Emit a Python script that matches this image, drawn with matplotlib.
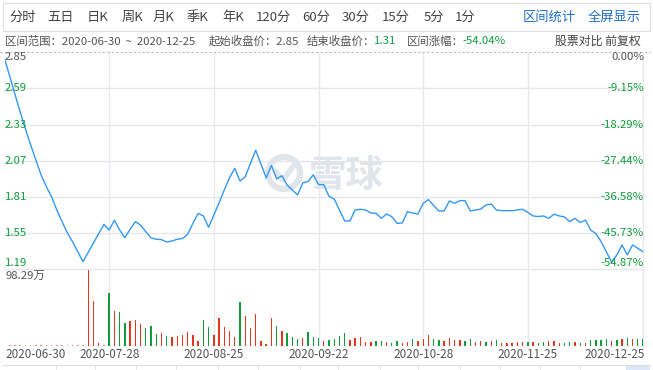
import numpy as np
import matplotlib
matplotlib.use("Agg")
import matplotlib.pyplot as plt
from matplotlib.patches import Rectangle, Circle
from matplotlib.transforms import IdentityTransform

plt.rcParams['font.family'] = ['Noto Sans CJK SC', 'DejaVu Sans']

W, H = 653, 370

# --- data ---
date_ticks = [0, 20, 40, 60, 80, 100, 122]
date_labels = ["2020-06-30", "2020-07-28", "2020-08-25", "2020-09-22",
               "2020-10-28", "2020-11-25", "2020-12-25"]

price_ticks = [2.85, 2.59, 2.33, 2.07, 1.81, 1.55, 1.29]
price_labels = ["2.85", "2.59", "2.33", "2.07", "1.81", "1.55", "1.19"]
pct_labels = ["0.00%", "-9.15%", "-18.29%", "-27.44%", "-36.58%", "-45.73%", "-54.87%"]

close = [2.805, 2.676, 2.547, 2.420, 2.298, 2.183, 2.075, 1.967, 1.883, 1.811,
         1.716, 1.632, 1.553, 1.488, 1.416, 1.345, 1.412, 1.479, 1.546, 1.613,
         1.572, 1.642, 1.572, 1.517, 1.577, 1.632, 1.608, 1.560, 1.515, 1.506,
         1.503, 1.486, 1.493, 1.506, 1.511, 1.541, 1.620, 1.692, 1.673, 1.592,
         1.680, 1.768, 1.860, 1.948, 2.015, 1.924, 1.955, 2.051, 2.145, 2.046,
         1.946, 2.036, 1.939, 1.962, 1.895, 1.860, 1.824, 1.912, 1.919, 1.969,
         1.898, 1.898, 1.814, 1.795, 1.716, 1.637, 1.637, 1.716, 1.721, 1.716,
         1.694, 1.692, 1.656, 1.687, 1.668, 1.620, 1.623, 1.704, 1.694, 1.687,
         1.764, 1.791, 1.748, 1.709, 1.709, 1.781, 1.764, 1.783, 1.783, 1.709,
         1.716, 1.722, 1.752, 1.759, 1.716, 1.711, 1.711, 1.711, 1.716, 1.721,
         1.698, 1.673, 1.669, 1.673, 1.656, 1.686, 1.673, 1.666, 1.632, 1.656,
         1.626, 1.644, 1.572, 1.546, 1.488, 1.416, 1.341, 1.393, 1.465, 1.393,
         1.465, 1.441, 1.416]

# volume in 万
volume = [1.0, 1.0, 1.0, 1.0, 1.0, 1.0, 1.0, 1.0, 1.0, 1.0,
          1.0, 1.0, 1.0, 1.0, 1.0, 1.0, 98.29, 58.2, 3.4, 1.0,
          68.1, 45.3, 43.5, 29.3, 32.3, 33.6, 28.0, 22.8, 25.9, 15.5,
          16.4, 12.9, 11.2, 12.9, 13.8, 18.1, 14.2, 6.5, 33.6, 24.1,
          14.2, 35.8, 24.1, 19.4, 11.2, 56.5, 38.8, 22.8, 41.4, 6.5,
          2.6, 35.8, 25.9, 19.4, 16.4, 11.2, 8.6, 9.9, 17.7, 11.2,
          9.9, 6.5, 7.8, 8.6, 12.9, 17.2, 7.8, 9.9, 11.2, 5.2,
          5.2, 6.0, 6.5, 5.2, 3.9, 6.9, 4.3, 5.6, 9.1, 6.5,
          8.6, 14.2, 8.6, 7.8, 6.9, 10.3, 7.8, 7.3, 6.9, 9.1,
          5.6, 6.5, 5.2, 6.5, 7.8, 4.3, 4.3, 4.3, 5.6, 5.6,
          5.6, 4.7, 4.3, 5.6, 6.5, 6.5, 4.3, 4.3, 5.2, 5.2,
          4.3, 4.3, 7.3, 7.3, 7.8, 8.6, 6.9, 7.8, 9.1, 9.9,
          9.1, 8.6, 8.6]
# 1 = red (up), 0 = green (down)
vol_up = [1, 1, 1, 1, 1, 1, 1, 1, 1, 1, 1, 1, 1, 1, 1, 1, 1, 1, 1, 1,
          0, 1, 0, 0, 1, 1, 1, 0, 0, 0, 1, 0, 1, 1, 1, 1, 1, 1, 0, 0,
          1, 1, 1, 1, 1, 0, 1, 1, 1, 1, 1, 1, 0, 1, 0, 0, 0, 1, 0, 0,
          0, 1, 0, 0, 0, 0, 1, 1, 1, 1, 1, 0, 0, 1, 0, 0, 1, 1, 0, 1,
          1, 1, 0, 0, 1, 1, 1, 1, 0, 0, 1, 1, 0, 1, 0, 1, 1, 1, 1, 1,
          0, 1, 0, 0, 1, 1, 1, 0, 0, 1, 0, 1, 0, 0, 0, 0, 1, 0, 1, 0,
          1, 0, 0]
vol_max = 98.29

RED = "#e8341c"
GREEN = "#0f9d3a"
BLUE = "#3398f5"
GRID = "#e6e8ee"
TXT = "#555555"


def fx(px):
    return px / W


def fy(py):
    return 1 - py / H


fig = plt.figure(figsize=(W / 100, H / 100), dpi=100)

# --- price panel ---
x0, x1 = 4.5, 643
top, bot = 52.1, 269.3
ax = fig.add_axes([fx(x0), fy(bot), fx(x1 - x0), (bot - top) / H])
ax.patch.set_alpha(0)
x = np.arange(len(close))
ax.plot(x, close, color=BLUE, lw=1.0, zorder=3)
ax.set_xlim(0, len(close) - 1)
ax.set_ylim(price_ticks[-1], price_ticks[0])
ax.set_xticks([])
ax.set_yticks([])
for s in ax.spines.values():
    s.set_visible(False)
for t in price_ticks[1:]:
    ax.axhline(t, color=GRID, lw=1.0, zorder=1, clip_on=False)
for d in date_ticks[1:-1]:
    ax.axvline(d, color=GRID, lw=1.0, zorder=1)
ax.axvline(date_ticks[-1], color=GRID, lw=1.0, zorder=1, clip_on=False)

# watermark, under the line
wm = "#e1e6ec"
ax.add_patch(Circle((284, H - 173), 16, transform=IdentityTransform(),
                    fill=False, edgecolor=wm, lw=4.5, zorder=2, clip_on=False))
ax.add_line(plt.Line2D([275, 283, 294], [H - 171, H - 180, H - 165],
                       transform=IdentityTransform(), color=wm, lw=4, zorder=2,
                       solid_capstyle="round", clip_on=False))
ax.text(fx(309), fy(176), "雪球", transform=fig.transFigure, color=wm, fontsize=27,
        fontweight="bold", ha="left", va="center", zorder=2)

# --- volume panel ---
vtop, vbot = 270, 346
axv = fig.add_axes([fx(x0), fy(vbot), fx(x1 - x0), (vbot - vtop) / H])
axv.patch.set_alpha(0)
vx = np.arange(len(volume))
cols = [RED if u else GREEN for u in vol_up]
big = np.array(volume) > 2
axv.bar(vx[big], np.array(volume)[big], width=0.26, color=np.array(cols)[big], zorder=3)
axv.bar(vx[~big], np.array(volume)[~big], width=0.3, color="#f08a78", zorder=3)
axv.set_xlim(0, len(volume) - 1)
axv.set_ylim(0, vol_max)
axv.set_xticks([])
axv.set_yticks([])
for s in axv.spines.values():
    s.set_visible(False)
for d in date_ticks[1:-1]:
    axv.axvline(d, color=GRID, lw=1.0, zorder=1)
axv.axvline(date_ticks[-1], color=GRID, lw=1.0, zorder=1, clip_on=False)

# --- axis labels ---
ppx = (bot - top) / (price_ticks[0] - price_ticks[-1])
for i, (t, lab, pl) in enumerate(zip(price_ticks, price_labels, pct_labels)):
    yy = top + (price_ticks[0] - t) * ppx
    if i == 0:
        yy = 57
    elif i == len(price_ticks) - 1:
        yy = 263
    c = TXT if i == 0 else GREEN
    fig.text(fx(5), fy(yy), lab, color=c, fontsize=8.2, ha="left", va="center")
    fig.text(fx(644), fy(yy), pl, color=c, fontsize=8.2, ha="right", va="center")

fig.text(fx(5), fy(275.5), "98.29万", color=TXT, fontsize=8.2, ha="left", va="center")

for d, lab in zip(date_ticks, date_labels):
    px = x0 + (x1 - x0) * d / (len(close) - 1)
    ha = "center"
    if d == date_ticks[0]:
        px, ha = 5, "left"
    elif d == date_ticks[-1]:
        px, ha = 645, "right"
    fig.text(fx(px), fy(355), lab, color=TXT, fontsize=8.4, ha=ha, va="center")

# --- bottom navigator strip ---
fig.add_artist(plt.Line2D([fx(3), fx(650)], [fy(365), fy(365)], color="#dddddd", lw=0.8))
for px in [56, 95, 136, 176, 218, 258, 300, 338, 380, 418, 460, 500, 540, 580]:
    fig.add_artist(plt.Line2D([fx(px), fx(px)], [fy(365), fy(370)], color="#e6e6e6", lw=0.8))
fig.add_artist(Rectangle((fx(626), 0), fx(24), fy(365) - 0.002, color="#dbe8f7", lw=0))

# --- header ---
fig.add_artist(Rectangle((fx(3), fy(31)), fx(647), (31 - 3) / H, fill=False,
                         edgecolor="#dedede", lw=0.8))
tabs = ["分时", "五日", "日K", "周K", "月K", "季K", "年K", "120分", "60分", "30分",
        "15分", "5分", "1分"]
tab_x = [23, 61, 98, 133, 164, 197, 233, 273, 316, 356, 396, 434, 465]
for t, px in zip(tabs, tab_x):
    fig.text(fx(px), fy(17), t, color="#444444", fontsize=9.5, ha="center", va="center")
fig.text(fx(549), fy(17), "区间统计", color="#1f6fc6", fontsize=9.5, ha="center", va="center")
fig.text(fx(614), fy(17), "全屏显示", color="#1f6fc6", fontsize=9.5, ha="center", va="center")

fig.add_artist(plt.Line2D([0, fx(650)], [fy(52), fy(52)], color="#bbbbbb", lw=0.8,
                          linestyle=(0, (2, 2))))

iy = 41
fig.text(fx(5), fy(iy), "区间范围：2020-06-30  ~  2020-12-25", color=TXT, fontsize=8.2,
         ha="left", va="center")
fig.text(fx(209), fy(iy), "起始收盘价：2.85", color=TXT, fontsize=8.2, ha="left", va="center")
fig.text(fx(307), fy(iy), "结束收盘价：", color=TXT, fontsize=8.2, ha="left", va="center")
fig.text(fx(374), fy(iy), "1.31", color=GREEN, fontsize=8.2, ha="left", va="center")
fig.text(fx(407), fy(iy), "区间涨幅：", color=TXT, fontsize=8.2, ha="left", va="center")
fig.text(fx(462), fy(iy), "-54.04%", color=GREEN, fontsize=8.2, ha="left", va="center")
fig.text(fx(641), fy(iy), "股票对比 前复权", color="#444444", fontsize=8.6, ha="right", va="center")

fig.savefig("out.png", dpi=100)
